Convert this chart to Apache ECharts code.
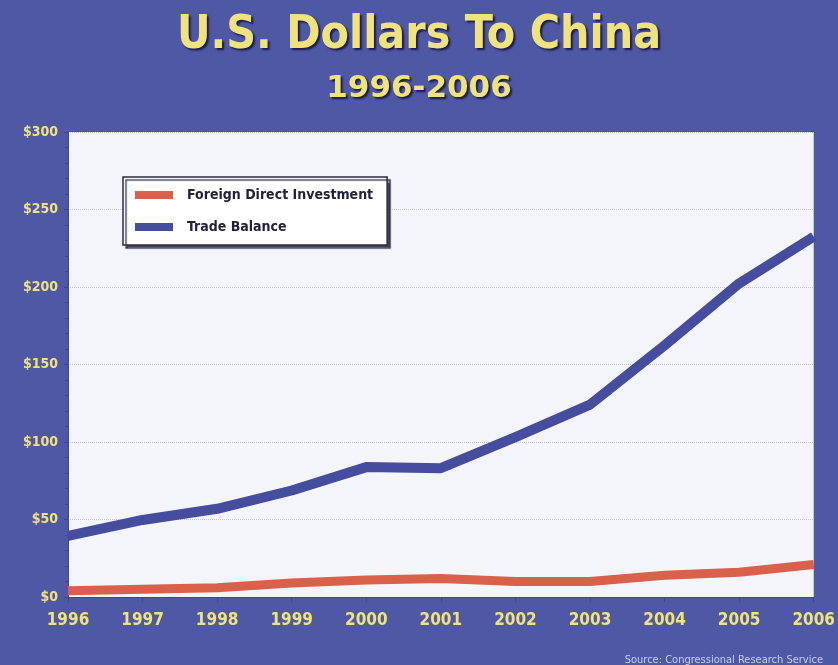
<!DOCTYPE html>
<html>
<head>
<meta charset="utf-8">
<script src="https://cdn.jsdelivr.net/npm/echarts@6/dist/echarts.min.js"></script>
<style>
html,body{margin:0;padding:0;background:#4f58a5;}
#chart{width:838px;height:665px;}
</style>
</head>
<body>
<div id="chart"></div>
<script>
var years = ['1996','1997','1998','1999','2000','2001','2002','2003','2004','2005','2006'];
var fdi = [4, 5, 6, 9, 11, 12, 10, 10, 14, 16, 21];
var tradeBalance = [39.5, 49.7, 56.9, 68.7, 83.8, 83.1, 103.1, 124.1, 162.3, 202.3, 232.5];
var yTicks = [0, 50, 100, 150, 200, 250, 300];

var yellow = '#f1e37c';
var cond = '"DejaVu Sans Condensed", "DejaVu Sans", sans-serif';
var chart = echarts.init(document.getElementById('chart'), null, {renderer: 'canvas'});
chart.setOption({
  backgroundColor: '#4f58a5',
  animation: false,
  title: [
    {
      text: 'U.S. Dollars To China',
      left: 'center',
      top: 8,
      textStyle: {
        color: yellow, fontFamily: cond, fontWeight: 'bold', fontSize: 46,
        textShadowColor: 'rgba(20,20,60,0.9)', textShadowOffsetX: 2, textShadowOffsetY: 2, textShadowBlur: 2
      }
    },
    {
      text: '1996-2006',
      left: 'center',
      top: 68,
      textStyle: {
        color: yellow, fontFamily: 'DejaVu Sans', fontWeight: 'bold', fontSize: 31,
        textShadowColor: 'rgba(20,20,60,0.9)', textShadowOffsetX: 2, textShadowOffsetY: 2, textShadowBlur: 2
      }
    },
    {
      text: 'Source: Congressional Research Service',
      right: 10,
      top: 650,
      textStyle: {color: '#c9cdea', fontFamily: cond, fontWeight: 'normal', fontSize: 11}
    }
  ],
  legend: {
    left: 123,
    top: 177,
    orient: 'vertical',
    backgroundColor: '#ffffff',
    borderColor: '#2b2b40',
    borderWidth: 1.5,
    borderRadius: 0,
    shadowColor: 'rgba(30,30,50,0.8)',
    shadowOffsetX: 3,
    shadowOffsetY: 3,
    shadowBlur: 1,
    padding: [11, 14, 11, 12],
    itemGap: 18,
    itemWidth: 38,
    itemHeight: 8,
    icon: 'rect',
    textStyle: {color: '#22233a', fontFamily: cond, fontWeight: 'bold', fontSize: 14, padding: [0, 0, 0, 9]},
    data: ['Foreign Direct Investment', 'Trade Balance']
  },
  grid: {
    left: 68, right: 20, top: 132, bottom: 68,
    show: true, backgroundColor: '#f4f5fb', borderWidth: 0
  },
  xAxis: {
    type: 'category',
    data: years,
    boundaryGap: false,
    axisLine: {show: true, lineStyle: {color: '#3d4590', width: 1}},
    axisTick: {show: true, length: 5, lineStyle: {color: '#3d4590'}},
    axisLabel: {color: yellow, fontFamily: cond, fontWeight: 'bold', fontSize: 17, margin: 15},
    splitLine: {show: false}
  },
  yAxis: {
    type: 'value',
    min: 0, max: 300, interval: 50,
    axisLine: {show: true, lineStyle: {color: '#3d4590', width: 1}},
    axisTick: {show: true, length: 4, lineStyle: {color: '#3d4590'}},
    minorTick: {show: true, splitNumber: 5, length: 3, lineStyle: {color: '#3d4590'}},
    axisLabel: {
      color: yellow, fontFamily: cond, fontWeight: 'bold', fontSize: 14, margin: 10,
      formatter: function (v) { return '$' + v; }
    },
    splitLine: {show: true, lineStyle: {color: '#c4c6d4', type: 'dotted', width: 1}}
  },
  series: [
    {
      name: 'Foreign Direct Investment',
      type: 'line',
      data: fdi,
      symbol: 'none',
      color: '#d9604a',
      lineStyle: {color: '#d9604a', width: 9, join: 'round'}
    },
    {
      name: 'Trade Balance',
      type: 'line',
      data: tradeBalance,
      symbol: 'none',
      color: '#464c9e',
      lineStyle: {color: '#464c9e', width: 10, join: 'round'}
    }
  ]
});
</script>
</body>
</html>
